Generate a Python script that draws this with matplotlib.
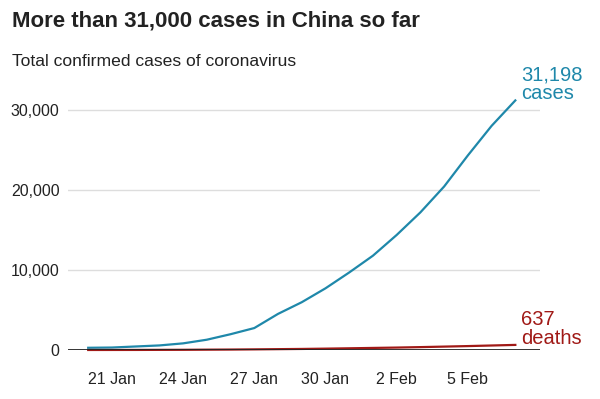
import numpy as np
import pandas as pd
import matplotlib
matplotlib.use("Agg")
import matplotlib.pyplot as plt
import matplotlib.dates as mdates

plt.rcParams['font.family'] = ['Liberation Sans', 'DejaVu Sans']

# data, 20 Jan - 7 Feb 2020
dates = pd.date_range("2020-01-20", "2020-02-07", freq="D")
cases = [278, 309, 440, 571, 830, 1287, 1975, 2744, 4515, 5974, 7711,
         9692, 11791, 14380, 17205, 20438, 24324, 28018, 31198]
deaths = [3, 6, 9, 17, 25, 41, 56, 80, 106, 132, 170, 213, 259, 304,
          361, 425, 490, 563, 637]
yticks = [0, 10000, 20000, 30000]
xtick_dates = pd.to_datetime(["2020-01-21", "2020-01-24", "2020-01-27",
                              "2020-01-30", "2020-02-02", "2020-02-05"])
xtick_labels = ["21 Jan", "24 Jan", "27 Jan", "30 Jan", "2 Feb", "5 Feb"]

teal = "#1f88aa"
red = "#a01916"

fig = plt.figure(figsize=(6, 3.99), dpi=100)
ax = fig.add_axes([0.113, 0.1228, 0.787, 0.6416])

ax.plot(dates, cases, color=teal, lw=1.6, zorder=3, clip_on=False)
ax.plot(dates, deaths, color=red, lw=1.6, zorder=3, clip_on=False)
ax.axhline(0, color="#222222", lw=2, zorder=4)

ax.set_ylim(0, 32000)
x0 = pd.Timestamp("2020-01-21") - pd.Timedelta(days=1.86)
x1 = pd.Timestamp("2020-02-05") + pd.Timedelta(days=3.04)
ax.set_xlim(x0, x1)

ax.set_yticks(yticks)
ax.set_yticklabels([f"{v:,}" for v in yticks])
ax.set_xticks(xtick_dates)
ax.set_xticklabels(xtick_labels)
ax.tick_params(length=0, labelsize=11.5, colors="#222222")
ax.tick_params(axis="y", pad=6)
ax.tick_params(axis="x", pad=16)
ax.grid(axis="y", color="#dddddd", lw=1)
ax.set_axisbelow(True)
for s in ax.spines.values():
    s.set_visible(False)

ax.annotate(f"{cases[-1]:,}\ncases", xy=(dates[-1], cases[-1]), xytext=(4, -2),
            textcoords="offset points", color=teal, fontsize=14.5,
            linespacing=0.95, va="bottom", ha="left", annotation_clip=False)
ax.annotate(f"{deaths[-1]:,}\ndeaths", xy=(dates[-1], deaths[-1]), xytext=(4, -2.5),
            textcoords="offset points", color=red, fontsize=14.5,
            linespacing=1.0, va="bottom", ha="left", annotation_clip=False)

fig.text(0.02, 0.948, "More than 31,000 cases in China so far", fontsize=16,
         fontweight="bold", color="#222222", va="center", ha="left")
fig.text(0.02, 0.845, "Total confirmed cases of coronavirus", fontsize=12.6,
         color="#222222", va="center", ha="left")

fig.savefig("out.png", dpi=100)
